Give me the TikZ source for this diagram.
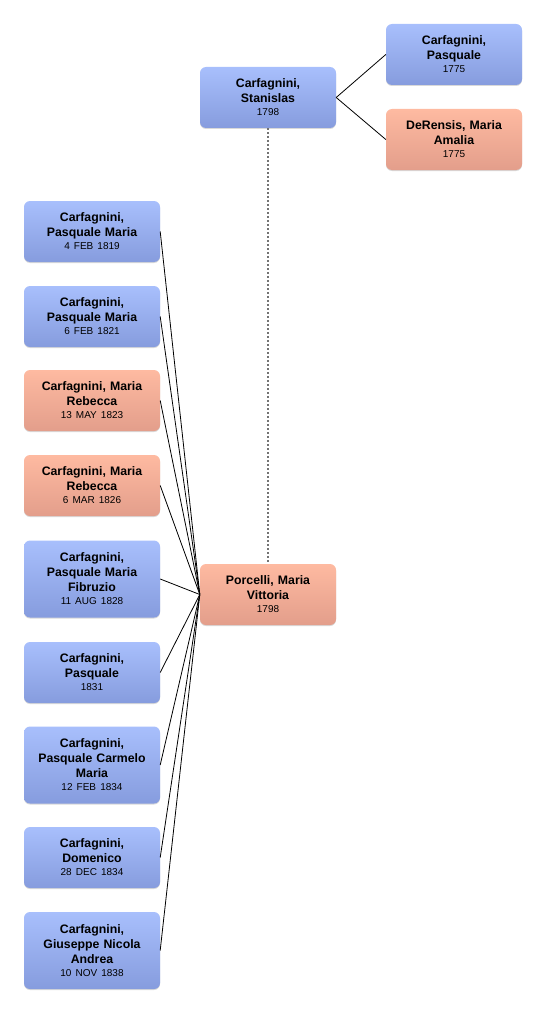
\documentclass[tikz,border=0pt]{standalone}
\usepackage{fontspec}
\setmainfont{Liberation Sans}
\usetikzlibrary{shadows}
\tikzset{
  person/.style={rounded corners=6pt, minimum width=136pt, inner sep=2pt, align=center,
    text width=132pt, draw=none, font=\fontsize{12.3}{15}\selectfont\bfseries,
    drop shadow={shadow xshift=0pt, shadow yshift=-1pt, opacity=0.25, fill=black!60}},
  male/.style={person, top color={rgb,255:red,168;green,191;blue,252}, bottom color={rgb,255:red,134;green,156;blue,222}},
  female/.style={person, top color={rgb,255:red,254;green,186;blue,161}, bottom color={rgb,255:red,227;green,158;blue,139}},
  short/.style={minimum height=61pt},
  tall/.style={minimum height=77pt},
  link/.style={black, line width=0.8pt},
  dotlink/.style={black!55, line width=1.4pt, dash pattern=on 2pt off 2pt}
}
\newcommand{\dt}[1]{\\[-2pt]{\fontsize{10}{12}\selectfont\mdseries #1}}
\begin{document}
\begin{tikzpicture}[x=1pt,y=-1pt]
\useasboundingbox (0,0) rectangle (546,1014);
\node[male,short] (s) at (268,97.5) {Carfagnini,\\Stanislas\dt{1798}};
\node[male,short] (f) at (454,54.5) {Carfagnini,\\Pasquale\dt{1775}};
\node[female,short] (m) at (454,139.5) {DeRensis, Maria\\Amalia\dt{1775}};
\node[female,short] (p) at (268,594.5) {Porcelli, Maria\\Vittoria\dt{1798}};
\node[male,short] (c1) at (92,231.5) {Carfagnini,\\Pasquale Maria\dt{4 FEB 1819}};
\node[male,short] (c2) at (92,316.5) {Carfagnini,\\Pasquale Maria\dt{6 FEB 1821}};
\node[female,short] (c3) at (92,400.5) {Carfagnini, Maria\\Rebecca\dt{13 MAY 1823}};
\node[female,short] (c4) at (92,485.5) {Carfagnini, Maria\\Rebecca\dt{6 MAR 1826}};
\node[male,tall] (c5) at (92,579) {Carfagnini,\\Pasquale Maria\\Fibruzio\dt{11 AUG 1828}};
\node[male,short] (c6) at (92,672.5) {Carfagnini,\\Pasquale\dt{1831}};
\node[male,tall] (c7) at (92,765) {Carfagnini,\\Pasquale Carmelo\\Maria\dt{12 FEB 1834}};
\node[male,short] (c8) at (92,857.5) {Carfagnini,\\Domenico\dt{28 DEC 1834}};
\node[male,tall] (c9) at (92,950.5) {Carfagnini,\\Giuseppe Nicola\\Andrea\dt{10 NOV 1838}};
\draw[link] (s.east) -- (f.west);
\draw[link] (s.east) -- (m.west);
\draw[dotlink] (s.south) -- (p.north);
\foreach \c in {c1,c2,c3,c4,c5,c6,c7,c8,c9}
  \draw[link] (\c.east) -- (p.west);
\end{tikzpicture}
\end{document}
